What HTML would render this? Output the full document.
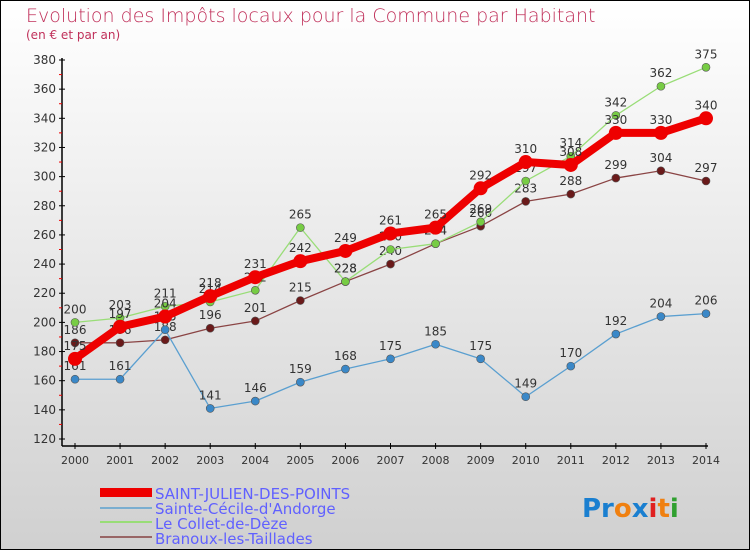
<!DOCTYPE html>
<html><head><meta charset="utf-8"><style>
body{margin:0}
#c{width:750px;height:550px;position:relative;font-family:"DejaVu Sans","Liberation Sans",sans-serif}
</style></head><body>
<div id="c">
<svg id="s" width="750" height="550" xmlns="http://www.w3.org/2000/svg">
<defs><linearGradient id="bg" x1="0" y1="0" x2="0" y2="1"><stop offset="0" stop-color="#ffffff"/><stop offset="1" stop-color="#d0d0d0"/></linearGradient></defs>
<rect x="0.5" y="0.5" width="749" height="549" fill="url(#bg)" stroke="#000"/>
<text x="26" y="22" font-size="19" fill="#c0305a" font-weight="200">Evolution des Impôts locaux pour la Commune par Habitant</text>
<text x="26" y="39" font-size="12" fill="#c0305a">(en € et par an)</text>
<g id="axes"></g><g id="marks"></g>
<g font-size="15" fill="#6060ff">
<rect x="100" y="488" width="52" height="9" fill="#e00"/>
<text x="155" y="499">SAINT-JULIEN-DES-POINTS</text>
<rect x="100" y="507" width="52" height="2" fill="#7aaed0"/>
<text x="155" y="514">Sainte-Cécile-d'Andorge</text>
<rect x="100" y="521" width="52" height="2" fill="#99dd77"/>
<text x="155" y="529">Le Collet-de-Dèze</text>
<rect x="100" y="536" width="52" height="2" fill="#996666"/>
<text x="155" y="544">Branoux-les-Taillades</text>
</g>
<text x="582" y="517" font-size="26" font-weight="bold"><tspan fill="#1a7fd0">Pr</tspan><tspan fill="#f08010">o</tspan><tspan fill="#1a7fd0">x</tspan><tspan fill="#e02020">i</tspan><tspan fill="#f08010">t</tspan><tspan fill="#30a030">i</tspan></text>
</svg></div>
<script>
const years=[2000,2001,2002,2003,2004,2005,2006,2007,2008,2009,2010,2011,2012,2013,2014];
const yTicks=[120,140,160,180,200,220,240,260,280,300,320,340,360,380];
const sjValues=[175,197,204,218,231,242,249,261,265,292,310,308,330,330,340];
const ceciValues=[161,161,195,141,146,159,168,175,185,175,149,170,192,204,206];
const colletValues=[200,203,211,214,222,265,228,250,254,269,297,314,342,362,375];
const branouxValues=[186,186,188,196,201,215,228,240,254,266,283,288,299,304,297];
const NS="http://www.w3.org/2000/svg";
const x=i=>75+i*(706-75)/14;
const y=v=>439-(v-120)*(379/260);
function mk(t,a,p){const e=document.createElementNS(NS,t);for(const k in a)e.setAttribute(k,a[k]);p.appendChild(e);return e;}
const ax=document.getElementById('axes'),mg=document.getElementById('marks');
let e=mk('line',{x1:62,y1:58,x2:62,y2:446,stroke:'#000','stroke-width':1.5},ax);


e=mk('line',{x1:62,y1:446,x2:708,y2:446,stroke:'#000','stroke-width':1.5},ax);


yTicks.forEach(v=>{
  mk('line',{x1:59,y1:y(v),x2:65,y2:y(v),stroke:'#000'},ax);
  if(v<380)mk('line',{x1:59,y1:y(v+10),x2:62,y2:y(v+10),stroke:'#e00'},ax);
  const t=mk('text',{x:56,y:y(v)+4,'text-anchor':'end','font-size':12,fill:'#333'},ax);t.textContent=v;
  
  
});
years.forEach((yr,i)=>{
  mk('line',{x1:x(i),y1:443,x2:x(i),y2:449,stroke:'#000'},ax);
  const t=mk('text',{x:x(i),y:464,'text-anchor':'middle','font-size':11,fill:'#333'},ax);t.textContent=yr;
  
  
});
function series(vals,color,dot,w,r,name){
  const g=mk('g',{},mg);
  
  
  const pl=mk('polyline',{points:vals.map((v,i)=>x(i)+','+y(v)).join(' '),fill:'none',stroke:color,'stroke-width':w,'stroke-linejoin':'round'},g);
  
  
  vals.forEach((v,i)=>{
    const c=mk('circle',{cx:x(i),cy:y(v),r:r,fill:dot,stroke:w>3?'none':'#555','stroke-width':0.6},g);
    
    
    const t=mk('text',{x:x(i),y:y(v)-9,'text-anchor':'middle','font-size':12,fill:'#333'},g);t.textContent=v;
    
    
  });
}
series(branouxValues,'#8a4444','#6a1a1a',1.3,4,'branoux');
series(ceciValues,'#5a9fd0','#3a88c8',1.3,4,'sainte-cecile');
series(colletValues,'#99dd77','#77cc44',1.3,4,'collet');
series(sjValues,'#ee0000','#ee0000',8,7,'saint-julien');
</script>
</body></html>
